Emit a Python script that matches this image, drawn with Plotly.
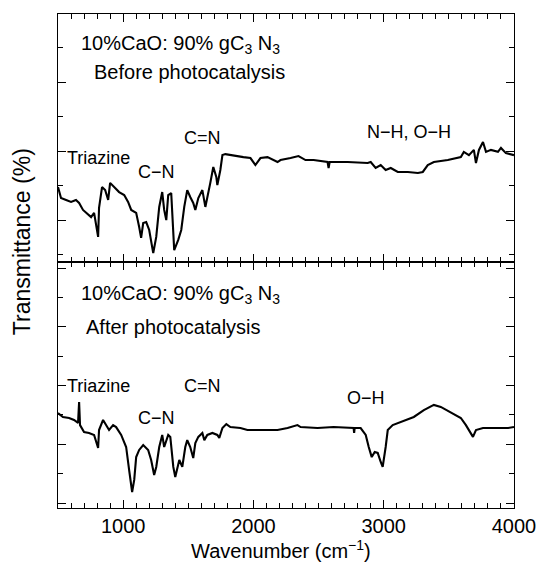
import plotly.graph_objects as go

# ---- data (transmittance in arbitrary units) ----
before_wn = [500, 523, 562, 600, 638, 662, 692, 731, 754, 777, 808, 815, 838, 862, 885, 900, 931, 969,
             1008, 1038, 1062, 1100, 1123, 1138, 1154, 1177, 1200, 1231, 1254, 1277, 1300, 1315, 1331,
             1346, 1369, 1392, 1423, 1446, 1469, 1492, 1515, 1538, 1554, 1577, 1608, 1631, 1669, 1692,
             1715, 1723, 1746, 1762, 1785, 1846, 1923, 1977, 2015, 2054, 2108, 2185, 2208, 2285, 2346,
             2400, 2462, 2569, 2577, 2585, 2723, 2877, 2900, 2938, 2977, 3015, 3054, 3108, 3185, 3262,
             3300, 3338, 3385, 3492, 3592, 3615, 3654, 3692, 3708, 3731, 3762, 3785, 3823, 3877, 3900,
             3938, 4000]
before_t = [30.2, 25.8, 25.0, 24.2, 25.0, 23.8, 21.0, 19.0, 18.1, 19.8, 10.1, 21.8, 30.2, 29.0, 25.0,
            31.9, 30.2, 28.2, 27.0, 24.2, 21.0, 19.8, 14.1, 9.7, 15.7, 16.1, 12.9, 3.6, 10.1, 22.2, 28.2,
            21.0, 16.9, 27.0, 27.8, 4.8, 8.9, 12.9, 22.2, 29.0, 26.2, 23.8, 21.0, 25.8, 29.0, 22.2, 31.9,
            38.3, 34.3, 31.0, 37.1, 43.1, 43.5, 43.1, 42.3, 41.9, 39.1, 41.9, 42.3, 40.3, 41.1, 41.9,
            42.7, 41.1, 41.1, 40.3, 37.9, 40.3, 40.3, 39.9, 40.3, 37.9, 39.1, 37.1, 37.9, 36.3, 36.3,
            35.9, 36.3, 39.1, 40.3, 41.1, 42.3, 44.4, 43.1, 45.2, 39.9, 45.2, 48.4, 44.4, 45.2, 44.4,
            46.0, 43.9, 43.1]

after_wn = [500, 538, 585, 623, 654, 662, 669, 700, 738, 777, 808, 815, 846, 869, 892, 923, 946, 985,
            1023, 1046, 1069, 1085, 1100, 1123, 1154, 1192, 1215, 1238, 1254, 1277, 1300, 1315, 1346,
            1362, 1385, 1400, 1431, 1454, 1477, 1492, 1515, 1538, 1554, 1577, 1608, 1623, 1646, 1685,
            1723, 1738, 1762, 1792, 1823, 1900, 1954, 2031, 2108, 2185, 2262, 2338, 2362, 2492, 2615,
            2769, 2773, 2777, 2823, 2862, 2885, 2908, 2931, 2954, 2977, 2992, 3015, 3031, 3069, 3131,
            3231, 3308, 3385, 3438, 3515, 3592, 3631, 3654, 3685, 3708, 3762, 3846, 3954, 4000]
after_t = [38.6, 37.0, 36.6, 35.8, 34.6, 43.1, 33.7, 30.9, 30.5, 29.7, 24.4, 31.7, 35.8, 33.7, 31.7,
           33.7, 32.9, 29.7, 24.8, 15.4, 6.5, 11.4, 20.7, 23.6, 25.6, 23.6, 19.5, 13.4, 16.7, 24.8,
           29.7, 24.8, 29.7, 28.9, 16.7, 12.6, 19.5, 16.7, 24.8, 27.6, 24.8, 20.3, 26.4, 28.9, 30.5,
           27.6, 29.7, 30.5, 29.7, 28.5, 32.5, 34.1, 32.9, 32.5, 31.7, 31.7, 31.7, 31.7, 32.5, 33.7,
           32.9, 32.5, 32.9, 32.5, 30.5, 32.5, 32.5, 29.7, 24.8, 20.7, 22.8, 22.4, 18.7, 16.7, 24.8,
           31.7, 33.7, 35.0, 37.0, 39.8, 41.9, 41.1, 39.0, 36.6, 33.7, 31.7, 28.9, 31.7, 32.5, 32.5,
           32.5, 32.9]

x_tick_vals = [1000, 2000, 3000, 4000]
x_tick_text = ["1000", "2000", "3000", "4000"]

FONT = "Arial, Liberation Sans, sans-serif"

fig = go.Figure()
fig.add_trace(go.Scatter(x=before_wn, y=before_t, mode="lines",
                         line=dict(color="black", width=2.1), xaxis="x2", yaxis="y2",
                         showlegend=False))
fig.add_trace(go.Scatter(x=after_wn, y=after_t, mode="lines",
                         line=dict(color="black", width=2.1), xaxis="x", yaxis="y",
                         showlegend=False))

axis_common = dict(showline=True, linecolor="black", linewidth=1.3, mirror="allticks",
                   ticks="inside", tickcolor="black", showgrid=False, zeroline=False,
                   automargin=False)

fig.update_layout(
    template="none",
    width=538, height=565, autosize=False,
    margin=dict(l=58, r=24, t=14, b=57),
    paper_bgcolor="white", plot_bgcolor="white",
    font=dict(family=FONT, size=20, color="black"),
    xaxis=dict(**axis_common, range=[500, 4000], anchor="y", domain=[0, 1],
               tickmode="array", tickvals=x_tick_vals, ticktext=x_tick_text, ticklen=8,
               tickwidth=1.3, tickfont=dict(size=20),
               minor=dict(ticks="inside", dtick=100, tick0=0, ticklen=4.5, tickcolor="black",
                          tickwidth=1.2)),
    xaxis2=dict(**axis_common, range=[500, 4000], anchor="y2", domain=[0, 1], matches="x",
                tickmode="array", tickvals=x_tick_vals, ticklen=8, tickwidth=1.3,
                showticklabels=False,
                minor=dict(ticks="inside", dtick=100, tick0=0, ticklen=4.5, tickcolor="black",
                           tickwidth=1.2)),
    yaxis=dict(**axis_common, domain=[0, 0.498], range=[0, 100], showticklabels=False,
               tickmode="linear", tick0=2.03, dtick=23.86, ticklen=8, tickwidth=1.3,
               minor=dict(ticks="inside", tick0=2.03, dtick=11.93, ticklen=4.5,
                          tickcolor="black", tickwidth=1.2)),
    yaxis2=dict(**axis_common, domain=[0.498, 1], range=[0, 100], showticklabels=False,
                tickmode="linear", tick0=16.9, dtick=27.8, ticklen=8, tickwidth=1.3,
                minor=dict(ticks="inside", tick0=2.9, dtick=13.9, ticklen=4.5,
                           tickcolor="black", tickwidth=1.2)),
)

def ann(text, x, y, size=20, **kw):
    d = dict(text=text, x=x, y=y, xref="paper", yref="paper", showarrow=False,
             xanchor="left", yanchor="middle", font=dict(family=FONT, size=size, color="black"))
    d.update(kw)
    fig.add_annotation(**d)

title = "10%CaO: 90% gC<sub>3</sub> N<sub>3</sub>"
# top panel
ann(title, 0.046, 0.938)
ann("Before photocatalysis", 0.075, 0.883)
ann("Triazine", 0.016, 0.7085, size=18)
ann("C−N", 0.172, 0.680, size=18)
ann("C=N", 0.273, 0.749, size=18)
ann("N−H, O−H", 0.674, 0.761, size=18)
# bottom panel
ann(title, 0.046, 0.432)
ann("After photocatalysis", 0.058, 0.366)
ann("Triazine", 0.016, 0.247, size=18)
ann("C−N", 0.172, 0.182, size=18)
ann("C=N", 0.273, 0.247, size=18)
ann("O−H", 0.630, 0.223, size=18)

# axis titles
ann("Wavenumber (cm<sup>−1</sup>)", 0.49, -0.083, xanchor="center")
ann("Transmittance (%)", -0.079, 0.54, xanchor="center", textangle=-90, size=23)

fig.write_html(
    "out.html",
    config={"responsive": False},
    post_script="document.body.style.margin='0';document.body.style.overflow='hidden';",
)
